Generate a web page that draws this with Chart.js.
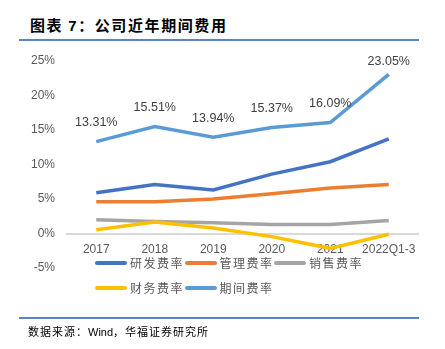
<!DOCTYPE html>
<html>
<head>
<meta charset="utf-8">
<script src="https://cdn.jsdelivr.net/npm/chart.js@4.4.0/dist/chart.umd.min.js"></script>
<style>
body{margin:0;background:#fff;}
#wrap{position:relative;width:445px;height:349px;overflow:hidden;font-family:"Noto Sans CJK SC",sans-serif;}
#title{position:absolute;left:30px;top:14px;font-size:15px;font-weight:bold;letter-spacing:1.6px;color:#000;line-height:22px;white-space:nowrap;}
.rule{position:absolute;left:19px;width:400px;height:2px;background:#5b82c2;}
#src{position:absolute;left:28px;top:323px;font-size:11px;letter-spacing:1px;color:#000;line-height:16px;white-space:nowrap;}
#src b{font-family:"Liberation Sans",Arial,sans-serif;font-weight:normal;letter-spacing:0;}
#chart{position:absolute;left:0;top:0;}
.lg{position:absolute;height:16px;font-size:12px;color:#595959;letter-spacing:1.5px;line-height:16px;white-space:nowrap;}
.lg i{position:absolute;left:0;top:6px;width:32px;height:4px;border-radius:2px;}
.lg span{position:absolute;left:35px;top:0;}
</style>
</head>
<body>
<div id="wrap">
  <div id="title">图表 <span style="font-family:'Liberation Sans',Arial,sans-serif">7</span>：公司近年期间费用</div>
  <div class="rule" style="top:39px"></div>
  <canvas id="chart" width="445" height="349"></canvas>
  <div id="legend"></div>
  <div class="rule" style="top:317px"></div>
  <div id="src">数据来源：<b>Wind</b>，华福证券研究所</div>
</div>
<script>
Chart.defaults.font.family = "'Liberation Sans', Arial, sans-serif";
Chart.defaults.font.size = 12;

// 数据（%）
const years = ['2017', '2018', '2019', '2020', '2021', '2022Q1-3'];
const rdRate = [5.9, 7.1, 6.3, 8.6, 10.4, 13.7];
const mgmtRate = [4.6, 4.6, 5.0, 5.75, 6.6, 7.1];
const salesRate = [2.0, 1.75, 1.55, 1.3, 1.3, 1.9];
const finRate = [0.55, 1.65, 0.8, -0.45, -2.15, -0.1];
const periodRate = [13.31, 15.51, 13.94, 15.37, 16.09, 23.05];

const seriesNames = ['研发费率', '管理费率', '销售费率', '财务费率', '期间费率'];
const seriesColors = ['#4472C4', '#ED7D31', '#A5A5A5', '#FFC000', '#5B9BD5'];
const seriesData = [rdRate, mgmtRate, salesRate, finRate, periodRate];

const yMin = -5, yMax = 25, yStep = 5;

// 期间费率数据标签
const pointLabels = {
  id: 'pointLabels',
  afterDatasetsDraw(chart) {
    const meta = chart.getDatasetMeta(4);
    const ctx = chart.ctx;
    ctx.save();
    ctx.font = "12.5px 'Liberation Sans', Arial, sans-serif";
    ctx.fillStyle = '#404040';
    ctx.textAlign = 'center';
    ctx.textBaseline = 'middle';
    meta.data.forEach((pt, i) => {
      const y = Math.max(pt.y - 19, chart.chartArea.top + 1);
      ctx.fillText(periodRate[i].toFixed(2) + '%', pt.x, y);
    });
    ctx.restore();
  }
};

const ctx = document.getElementById('chart').getContext('2d');
const chart = new Chart(ctx, {
  type: 'line',
  data: {
    labels: years,
    datasets: seriesData.map((d, i) => ({
      label: seriesNames[i],
      data: d,
      borderColor: seriesColors[i],
      backgroundColor: seriesColors[i],
      borderWidth: 3.5,
      pointRadius: 0,
      tension: 0,
      order: 5 - i
    }))
  },
  options: {
    responsive: false,
    animation: false,
    layout: { padding: { top: 61, bottom: 81, left: 0, right: 27 } },
    plugins: {
      legend: { display: false },
      tooltip: { enabled: false }
    },
    scales: {
      x: {
        position: { y: 0 },
        offset: true,
        grid: { display: false, drawTicks: false },
        border: { display: true, color: '#d9d9d9', width: 2 },
        ticks: { color: '#595959', font: { size: 12 }, padding: 9, maxRotation: 0, autoSkip: false },
        afterFit: s => { s.height = 0; }
      },
      y: {
        min: yMin,
        max: yMax,
        grid: { display: false, drawTicks: false },
        border: { display: false },
        ticks: {
          stepSize: yStep,
          color: '#595959',
          font: { size: 12 },
          padding: 12,
          callback: v => v + '%'
        },
        afterFit: s => { s.width = 67; }
      }
    }
  },
  plugins: [pointLabels]
});

// 图例
const legend = document.getElementById('legend');
seriesNames.forEach((name, i) => {
  const el = document.createElement('div');
  el.className = 'lg';
  el.style.left = (95 + (i % 3) * 89.5) + 'px';
  el.style.top = (i < 3 ? 255 : 280) + 'px';
  el.innerHTML = '<i style="background:' + seriesColors[i] + '"></i><span>' + name + '</span>';
  legend.appendChild(el);
});
</script>
</body>
</html>
